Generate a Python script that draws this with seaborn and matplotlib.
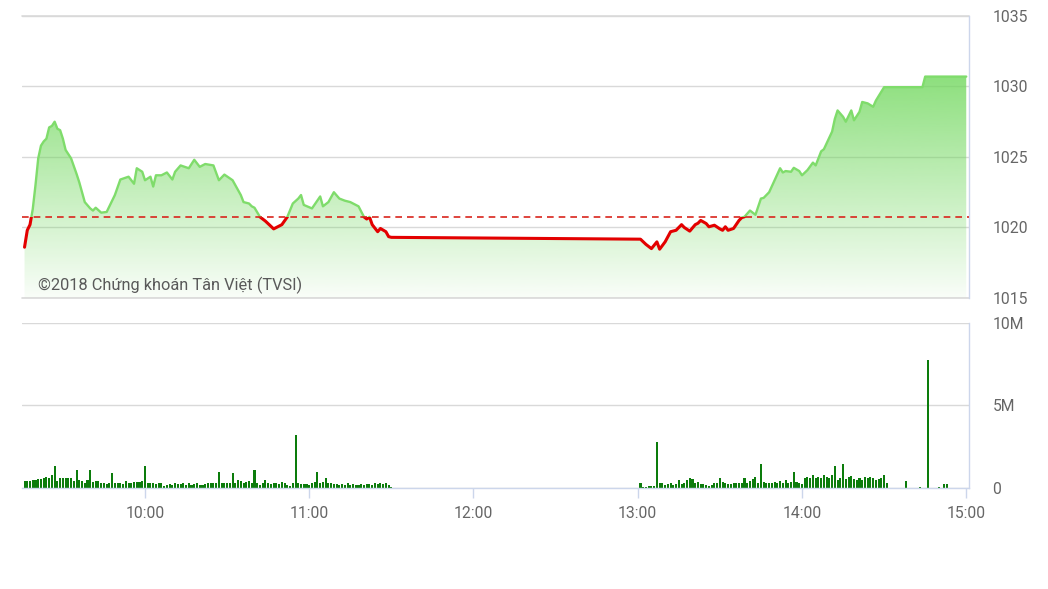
import numpy as np
import pandas as pd
import seaborn as sns
import matplotlib.pyplot as plt
from matplotlib.patches import Rectangle

# reference (previous close) level
reference = 1020.75

price_time = ["09:16", "09:17", "09:18", "09:19", "09:20", "09:21", "09:22", "09:23", "09:24", "09:25",
              "09:26", "09:27", "09:28", "09:29", "09:30", "09:31", "09:33", "09:35", "09:36", "09:38",
              "09:40", "09:41", "09:42", "09:44", "09:46", "09:49", "09:51", "09:54", "09:56", "09:57",
              "09:59", "10:00", "10:02", "10:03", "10:04", "10:06", "10:08", "10:10", "10:11", "10:13",
              "10:16", "10:18", "10:20", "10:22", "10:25", "10:27", "10:29", "10:32", "10:35", "10:36",
              "10:38", "10:39", "10:40", "10:42", "10:44", "10:47", "10:50", "10:52", "10:54", "10:56",
              "10:57", "10:58", "11:01", "11:04", "11:05", "11:07", "11:09", "11:11", "11:13", "11:15",
              "11:17", "11:18", "11:20", "11:21", "11:22", "11:23", "11:25", "11:26", "11:28", "11:29",
              "11:30", "13:01", "13:03", "13:05", "13:07", "13:08", "13:10", "13:12", "13:14", "13:16",
              "13:17", "13:19", "13:21", "13:22", "13:23", "13:25", "13:26", "13:28", "13:30", "13:31",
              "13:32", "13:33", "13:35", "13:37", "13:38", "13:39", "13:41", "13:43", "13:45", "13:46",
              "13:48", "13:50", "13:52", "13:53", "13:54", "13:56", "13:57", "13:59", "14:00", "14:02",
              "14:04", "14:05", "14:07", "14:08", "14:11", "14:12", "14:13", "14:15", "14:16", "14:18",
              "14:19", "14:21", "14:22", "14:24", "14:26", "14:27", "14:30", "14:44", "14:45", "15:00"]
price_value = [1018.6, 1019.8, 1020.2, 1021.3, 1023.0, 1024.9, 1025.8, 1026.1, 1026.3, 1027.1,
               1027.2, 1027.5, 1027.0, 1026.9, 1026.3, 1025.5, 1024.9, 1023.8, 1023.2, 1021.8,
               1021.35, 1021.2, 1021.4, 1021.05, 1021.1, 1022.3, 1023.4, 1023.6, 1023.1, 1024.2,
               1023.95, 1023.35, 1023.6, 1022.9, 1023.7, 1023.7, 1023.9, 1023.4, 1023.95, 1024.4,
               1024.2, 1024.8, 1024.3, 1024.5, 1024.4, 1023.35, 1023.75, 1023.35, 1022.3, 1021.8,
               1021.7, 1021.5, 1021.4, 1020.75, 1020.45, 1019.9, 1020.2, 1020.75, 1021.7, 1022.05,
               1022.3, 1021.6, 1021.35, 1022.2, 1021.5, 1021.8, 1022.5, 1022.05, 1021.9, 1021.8,
               1021.6, 1021.5, 1020.75, 1020.6, 1020.75, 1020.2, 1019.7, 1019.93, 1019.7, 1019.35,
               1019.3, 1019.17, 1018.8, 1018.5, 1018.98, 1018.46, 1018.98, 1019.7, 1019.8, 1020.2,
               1020.0, 1019.74, 1020.2, 1020.3, 1020.5, 1020.28, 1020.05, 1020.16, 1019.9, 1019.8,
               1020.05, 1019.8, 1019.93, 1020.5, 1020.7, 1020.76, 1021.2, 1020.9, 1022.05, 1022.1,
               1022.5, 1023.35, 1024.2, 1023.9, 1024.0, 1023.95, 1024.23, 1024.0, 1023.7, 1024.07,
               1024.6, 1024.4, 1025.4, 1025.55, 1026.8, 1027.7, 1028.3, 1027.85, 1027.5, 1028.3,
               1027.6, 1028.2, 1028.9, 1028.8, 1028.56, 1029.0, 1029.95, 1029.95, 1030.7, 1030.7]

# volume per minute, millions of shares
vol_am_start = "09:16"
vol_am = [0.42, 0.44, 0.44, 0.46, 0.48, 0.52, 0.56, 0.62, 0.66, 0.58, 0.76, 1.33,
          0.44, 0.59, 0.59, 0.59, 0.59, 0.62, 0.45, 1.09, 0.48, 0.44, 0.28, 0.50, 1.09,
          0.38, 0.44, 0.44, 0.32, 0.28, 0.24, 0.32, 0.93,
          0.32, 0.32, 0.32, 0.24, 0.44, 0.32, 0.32, 0.36, 0.36, 0.38, 0.44, 1.33,
          0.32, 0.32, 0.32, 0.24, 0.32, 0.28, 0.12, 0.18, 0.24, 0.18, 0.28, 0.24, 0.24,
          0.28, 0.18, 0.28, 0.18, 0.24, 0.28, 0.18, 0.18, 0.24, 0.28, 0.28, 0.32, 0.30, 0.99,
          0.28, 0.32, 0.28, 0.32, 0.93, 0.28, 0.48, 0.44, 0.28, 0.38, 0.44, 0.28, 1.09,
          0.28, 0.18, 0.32, 0.48, 0.32, 0.24, 0.32, 0.28, 0.24, 0.38, 0.32, 0.18, 0.12, 0.28, 3.20,
          0.28, 0.24, 0.24, 0.24, 0.18, 0.28, 0.38, 0.99,
          0.32, 0.38, 0.59, 0.32, 0.28, 0.24, 0.24, 0.18, 0.24, 0.18, 0.28, 0.18, 0.24, 0.18,
          0.18, 0.24, 0.18, 0.24, 0.24, 0.18, 0.28, 0.24, 0.28, 0.24, 0.28, 0.18, 0.08]
vol_pm_start = "13:01"
vol_pm = [0.32, 0.06, 0.08, 0.10, 0.12, 0.14, 2.80,
          0.28, 0.28, 0.18, 0.24, 0.32, 0.18, 0.24, 0.48, 0.24, 0.32, 0.48, 0.59, 0.53, 0.28,
          0.38, 0.24, 0.24, 0.18, 0.12, 0.18, 0.28, 0.32, 0.59, 0.38,
          0.28, 0.24, 0.24, 0.28, 0.28, 0.32, 0.32, 0.59, 0.32, 0.44, 0.53, 0.69, 0.28, 1.45,
          0.38, 0.28, 0.32, 0.32, 0.38, 0.28, 0.44, 0.32, 0.48, 0.28, 0.38, 0.97,
          0.38, 0.32, 0.24, 0.59, 0.69, 0.59, 0.79, 0.59, 0.69, 0.59, 0.79, 0.69, 0.59, 0.79, 1.33,
          0.48, 0.59, 1.45,
          0.53, 0.69, 0.73, 0.53, 0.48, 0.59, 0.48, 0.69, 0.59, 0.69, 0.59, 0.48, 0.53, 0.59, 0.79, 0.32]
vol_late_time = ["14:38", "14:43", "14:46", "14:50", "14:52", "14:53"]
vol_late = [0.42, 0.08, 7.76, 0.06, 0.24, 0.24]

hour_labels = ["10:00", "11:00", "12:00", "13:00", "14:00", "15:00"]
price_ticks = [1015, 1020, 1025, 1030, 1035]
vol_ticks = [0, 5, 10]
vol_tick_labels = ["0", "5M", "10M"]
watermark = "©2018 Chứng khoán Tân Việt (TVSI)"


def to_min(s):
    h, m = s.split(":")
    return int(h) * 60 + int(m) - 540


price_x = [to_min(t) for t in price_time]
vol_x = ([to_min(vol_am_start) + i for i in range(len(vol_am))]
         + [to_min(vol_pm_start) + i for i in range(len(vol_pm))]
         + [to_min(t) for t in vol_late_time])
vol_y = vol_am + vol_pm + vol_late
hour_x = [to_min(t) for t in hour_labels]

sns.set_style("white")
plt.rcParams['font.family'] = ['Roboto', 'DejaVu Sans']

green = '#7fdc6b'
red = '#e30000'
axis_blue = '#ccd6eb'
grid_gray = '#d9d9d9'
label_gray = '#666666'
x0, x1 = 15, 361

fig = plt.figure(figsize=(10.48, 5.89), dpi=100)
ax1 = fig.add_axes([0.0208, 0.4941, 0.9038, 0.4788])
ax2 = fig.add_axes([0.0208, 0.1715, 0.9038, 0.2801])

# ---- price panel ----
poly = ax1.fill_between(price_x, price_value, 1015, color='none', lw=0)
grad = np.zeros((256, 1, 4))
grad[:, 0, 0] = 110 / 255
grad[:, 0, 1] = 215 / 255
grad[:, 0, 2] = 90 / 255
grad[:, 0, 3] = np.linspace(0.04, 0.8, 256)
im = ax1.imshow(grad, extent=[x0, x1, 1015, 1031], origin='lower', aspect='auto', zorder=1)
im.set_clip_path(poly.get_paths()[0], transform=ax1.transData)

sns.lineplot(x=price_x, y=price_value, ax=ax1, color=green, lw=1.7,
             estimator=None, sort=False, zorder=3)
ax1.lines[-1].set_clip_path(Rectangle((0, reference), 400, 50, transform=ax1.transData))
sns.lineplot(x=price_x, y=price_value, ax=ax1, color=red, lw=2.2,
             estimator=None, sort=False, zorder=3)
ax1.lines[-1].set_clip_path(Rectangle((0, 1000), 400, reference - 1000, transform=ax1.transData))

ax1.axhline(reference, color='#d9251d', lw=1.2, ls=(0, (4, 3)), zorder=4)
ax1.axhline(1015, color=grid_gray, lw=1.2, clip_on=False, zorder=2)
ax1.axhline(1035, color=grid_gray, lw=1.2, clip_on=False, zorder=2)

ax1.set_xlim(x0, x1)
ax1.set_ylim(1015, 1035)
ax1.set_xticks([])
ax1.set_yticks(price_ticks)
ax1.yaxis.tick_right()
ax1.tick_params(axis='y', length=0, pad=17, labelsize=11.3, labelcolor=label_gray)
ax1.grid(axis='y', color=grid_gray, lw=1)
ax1.set_axisbelow(True)
for side in ['top', 'left', 'bottom']:
    ax1.spines[side].set_visible(False)
ax1.spines['right'].set_color(axis_blue)
ax1.spines['right'].set_linewidth(1)
ax1.set_xlabel('')
ax1.set_ylabel('')
ax1.text(0.017, 0.046, watermark, transform=ax1.transAxes, va='center', ha='left',
         fontsize=11.8, color='#595959', zorder=5)

# ---- volume panel ----
sns.histplot(x=vol_x, weights=vol_y, discrete=True, shrink=0.75, color='#0c7c0c',
             alpha=1, linewidth=0, ax=ax2)
ax2.set_xlim(x0, x1)
ax2.set_ylim(0, 10)
ax2.set_yticks(vol_ticks)
ax2.set_yticklabels(vol_tick_labels)
ax2.yaxis.tick_right()
ax2.set_xticks(hour_x)
ax2.set_xticklabels(hour_labels)
ax2.tick_params(axis='y', length=0, pad=17, labelsize=11.3, labelcolor=label_gray)
ax2.tick_params(axis='x', length=7, width=1, color=axis_blue, pad=6,
                labelsize=11.3, labelcolor=label_gray, bottom=True)
ax2.grid(axis='y', color=grid_gray, lw=1)
ax2.set_axisbelow(True)
for side in ['top', 'left']:
    ax2.spines[side].set_visible(False)
for side in ['right', 'bottom']:
    ax2.spines[side].set_color(axis_blue)
    ax2.spines[side].set_linewidth(1)
    ax2.spines[side].set_zorder(4)
ax2.set_xlabel('')
ax2.set_ylabel('')

fig.savefig('out.png', dpi=100, facecolor='white')
